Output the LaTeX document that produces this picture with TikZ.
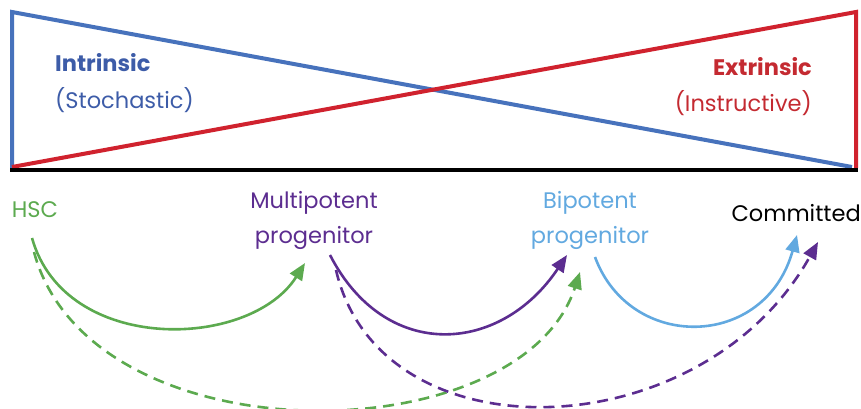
\documentclass[tikz,border=0pt]{standalone}
\usepackage{fontspec}
\setmainfont{Poppins}
\usepackage{tikz}
\usetikzlibrary{arrows}
\usetikzlibrary{arrows.meta}
\usetikzlibrary{positioning}
\usepackage{xcolor}
\definecolor{intrblue}{HTML}{4772BC}
\definecolor{intrtext}{HTML}{3D5CA8}
\definecolor{extrred}{HTML}{D0222E}
\definecolor{extrtext}{HTML}{C42A31}
\definecolor{hscgreen}{HTML}{5CAA4F}
\definecolor{mppurple}{HTML}{5C2D90}
\definecolor{bplblue}{HTML}{62A9E0}
\newcommand{\lblfont}{\fontsize{22.5}{35}\selectfont}

\begin{document}
\begin{tikzpicture}[x=1pt,y=-1pt]
\tikzstyle{every node}=[inner sep=0pt,font=\lblfont]
\tikzstyle{celltrans}=[line width=2.6pt,arrows={-Triangle[length=17pt,width=14pt]}]
\tikzstyle{skiptrans}=[celltrans,dash pattern=on 11pt off 7pt]
\useasboundingbox (0,0) rectangle (861,409);
\draw[intrblue,line width=4pt,line join=miter] (12,168) -- (12,12) -- (852,167);
\draw[extrred,line width=4pt,line join=miter] (12,167) -- (856,12) -- (856,168);
\draw[line width=3.5pt] (10,170) -- (858,170);
\node[anchor=west,text=intrtext] (intr) at (55,63) {\bfseries Intrinsic};
\node[anchor=west,text=intrtext] (stoch) at (55,100) {(Stochastic)};
\node[anchor=east,text=extrtext] (extr) at (812,67) {\bfseries Extrinsic};
\node[anchor=east,text=extrtext] (instr) at (812,103) {(Instructive)};
\node[text=hscgreen] (hsc) at (35,210) {HSC};
\node[text=mppurple,align=center] (mpp) at (314,220) {Multipotent\\progenitor};
\node[text=bplblue,align=center] (bpp) at (590,220) {Bipotent\\progenitor};
\node[anchor=east] (com) at (861,213) {Committed};
\draw[skiptrans,hscgreen] ([shift={(-1,42)}]hsc.center) .. controls (90,460) and (520,455) .. ([shift={(-10,52)}]bpp.center);
\draw[skiptrans,mppurple] ([shift={(22,50)}]mpp.center) .. controls (380,460) and (702,450) .. ([shift={(-43,29)}]com.east);
\draw[celltrans,hscgreen] ([shift={(-3,28)}]hsc.center) .. controls (65,355) and (250,350) .. ([shift={(-9,43)}]mpp.center);
\draw[celltrans,mppurple] ([shift={(16,35)}]mpp.center) .. controls (385,362) and (500,355) .. ([shift={(-23,35)}]bpp.center);
\draw[celltrans,bplblue] ([shift={(5,37)}]bpp.center) .. controls (630,352) and (765,350) .. ([shift={(-64,22)}]com.east);
\end{tikzpicture}
\end{document}
